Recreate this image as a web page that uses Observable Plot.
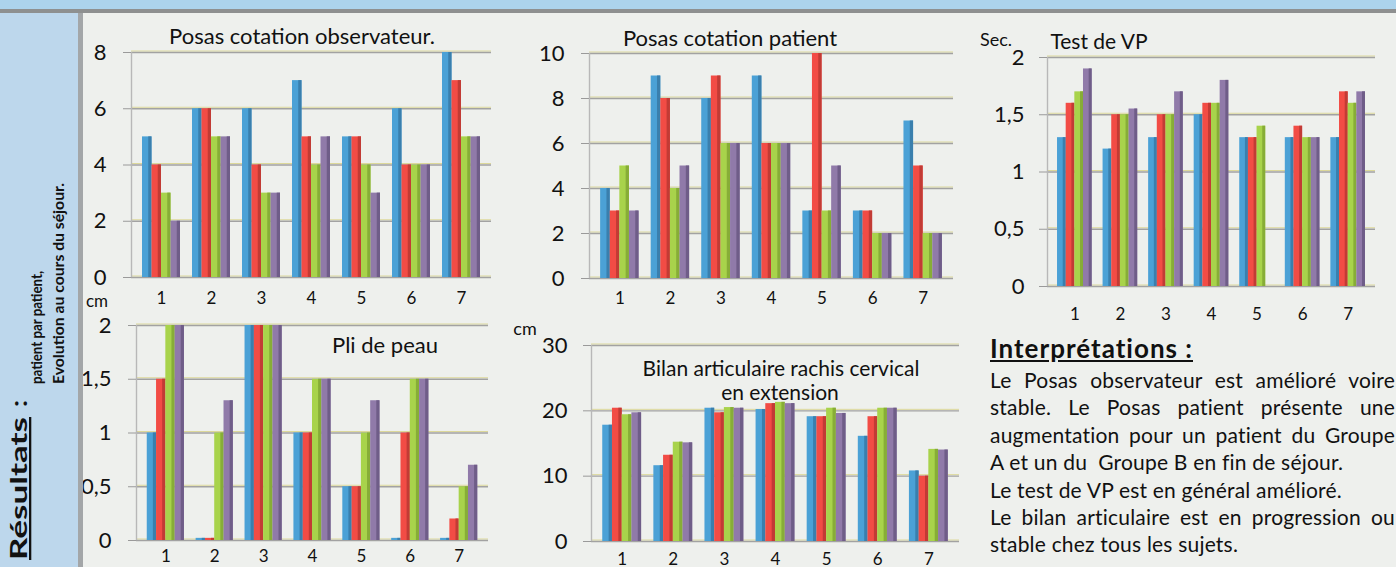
<!DOCTYPE html>
<html><head><meta charset="utf-8">
<script src="https://cdn.jsdelivr.net/npm/d3@7"></script>
<script src="https://cdn.jsdelivr.net/npm/@observablehq/plot@0.6"></script>
<style>
html,body{margin:0;padding:0;}
body{width:1396px;height:567px;overflow:hidden;background:#eef0ed;font-family:Lato,"Open Sans",sans-serif;color:#111;position:relative;}
.abs{position:absolute;}
.ttl{position:absolute;transform:translate(-50%,-50%);white-space:nowrap;line-height:1;font-size:22px;}
.line{position:absolute;left:990px;width:405px;height:27.4px;line-height:27.4px;font-size:21px;letter-spacing:0.2px;white-space:nowrap;}
.j{text-align:justify;text-align-last:justify;}
</style></head>
<body>
<div class="abs" style="left:0;top:0;width:1396px;height:9px;background:#acd3ec"></div>
<div class="abs" style="left:0;top:9px;width:1396px;height:4px;background:#8e9090"></div>
<div id="c1" class="abs" style="left:85px;top:18px"></div>
<div id="c2" class="abs" style="left:500px;top:18px"></div>
<div id="c3" class="abs" style="left:970px;top:20px"></div>
<div id="c4" class="abs" style="left:85px;top:300px"></div>
<div id="c5" class="abs" style="left:500px;top:308px"></div>
<div id="left" class="abs" style="left:0;top:13px;width:83px;height:554px;z-index:5"></div>

<div class="ttl" style="left:302px;top:36px">Posas cotation observateur.</div>
<div class="ttl" style="left:730px;top:38px">Posas cotation patient</div>
<div class="ttl" style="left:996px;top:39px;font-size:18px">Sec.</div>
<div class="ttl" style="left:1099px;top:40px;font-size:21px">Test de VP</div>
<div class="ttl" style="left:97px;top:300px;font-size:17px">cm</div>
<div class="ttl" style="left:385px;top:345px">Pli de peau</div>
<div class="ttl" style="left:525px;top:328px;font-size:18px">cm</div>
<div class="ttl" style="left:781px;top:367px;font-size:21px">Bilan articulaire rachis cervical</div>
<div class="ttl" style="left:780px;top:391px;font-size:21px">en extension</div>

<div id="interp"></div>

<script>
// ---- data ----
const patients = [1, 2, 3, 4, 5, 6, 7];
const seriesNames = ["Mesure 1", "Mesure 2", "Mesure 3", "Mesure 4"];
const seriesColors = ["#4ba1d6", "#f24c45", "#a8d34b", "#907aa9"];
const seriesSides  = ["#3a7fad", "#c23b35", "#87ad37", "#6f5d88"];

const posasObservateur = [[5,4,3,2],[6,6,5,5],[6,4,3,3],[7,5,4,5],[5,5,4,3],[6,4,4,4],[8,7,5,5]];
const posasPatient     = [[4,3,5,3],[9,8,4,5],[8,9,6,6],[9,6,6,6],[3,10,3,5],[3,3,2,2],[7,5,2,2]];
const testVP           = [[1.3,1.6,1.7,1.9],[1.2,1.5,1.5,1.55],[1.3,1.5,1.5,1.7],[1.5,1.6,1.6,1.8],[1.3,1.3,1.4,null],[1.3,1.4,1.3,1.3],[1.3,1.7,1.6,1.7]];
const pliDePeau        = [[1,1.5,2,2],[0.02,0.02,1,1.3],[2,2,2,2],[1,1,1.5,1.5],[0.5,0.5,1,1.3],[0.02,1,1.5,1.5],[0.02,0.2,0.5,0.7]];
const bilanArticulaire = [[17.8,20.4,19.4,19.7],[11.6,13.2,15.2,15.1],[20.4,19.7,20.5,20.4],[20.2,21.1,21.3,21.1],[19.1,19.1,20.4,19.6],[16.1,19.1,20.4,20.4],[10.8,10,14.1,14]];

const ticksObs = [0, 2, 4, 6, 8];
const ticksPat = [0, 2, 4, 6, 8, 10];
const ticksVP  = [0, 0.5, 1, 1.5, 2];
const ticksPli = [0, 0.5, 1, 1.5, 2];
const ticksBil = [0, 10, 20, 30];

const interpretation = [
  ["Le Posas observateur est amélioré voire", true],
  ["stable. Le Posas patient présente une", true],
  ["augmentation pour un patient du Groupe", true],
  ["A et un du  Groupe B en fin de séjour.", false],
  ["Le test de VP est en général amélioré.", false],
  ["Le bilan articulaire est en progression ou", true],
  ["stable chez tous les sujets.", false]
];

// ---- charts ----
const GROUP = 0.76, BAR = GROUP / 4, SIDE = 0.065;
const fmt = d => String(d).replace(".", ",");

function rowsFrom(values) {
  const rows = [];
  values.forEach((vals, i) => vals.forEach((v, s) => {
    if (v != null) rows.push({patient: patients[i], serie: s, name: seriesNames[s], value: v});
  }));
  return rows;
}

function drawChart(id, values, yDomain, yTicks, o) {
  const rows = rowsFrom(values);
  const bx1 = d => d.patient - GROUP / 2 + d.serie * BAR;
  const barMarks = [];
  seriesNames.forEach((n, s) => {
    const sub = rows.filter(d => d.serie === s);
    barMarks.push(Plot.rectY(sub, {x1: bx1, x2: d => bx1(d) + BAR, y1: 0, y2: "value", fill: seriesColors[s]}));
    barMarks.push(Plot.rectY(sub, {x1: d => bx1(d) + BAR - SIDE, x2: d => bx1(d) + BAR, y1: 0, y2: "value", fill: seriesSides[s]}));
  });
  const chart = Plot.plot({
    width: o.width, height: o.height,
    marginLeft: o.ml, marginRight: o.mr, marginTop: o.mt, marginBottom: o.mb,
    x: {domain: [0.4, 7.6], axis: null, label: null},
    y: {domain: yDomain, axis: null, label: null},
    style: {background: "transparent", fontFamily: "Lato, sans-serif", overflow: "visible", color: "#111"},
    marks: [
      Plot.ruleY(yTicks, {stroke: "#dcd89a", strokeWidth: 1, dy: -1.5}),
      Plot.ruleY(yTicks, {stroke: "#a2a2a2", strokeWidth: 1.4}),
      Plot.ruleX([0.4], {y1: yDomain[0], y2: yDomain[1], stroke: "#b8b8b8", strokeWidth: 1.4}),
      ...barMarks,
      Plot.axisY({ticks: yTicks, tickSize: 8, tickPadding: o.yPad, tickFormat: fmt, fontSize: 22, stroke: "#9a9a9a", fill: "#111", label: null}),
      Plot.axisX({ticks: patients, tickSize: 0, tickPadding: o.xPad, fontSize: 17, fill: "#111", label: null})
    ]
  });
  document.getElementById(id).appendChild(chart);
}

drawChart("c1", posasObservateur, [0, 8], ticksObs, {width: 410, height: 289, ml: 46, mr: 4, mt: 34, mb: 30, yPad: 17, xPad: 14});
drawChart("c2", posasPatient, [0, 10], ticksPat, {width: 460, height: 290, ml: 89, mr: 7, mt: 35, mb: 30, yPad: 17, xPad: 13});
drawChart("c3", testVP, [0, 2], ticksVP, {width: 410, height: 306, ml: 77, mr: 5, mt: 37, mb: 40, yPad: 15, xPad: 21});
drawChart("c4", pliDePeau, [0, 2], ticksPli, {width: 408, height: 267, ml: 51, mr: 5, mt: 25, mb: 27, yPad: 17, xPad: 9});
drawChart("c5", bilanArticulaire, [0, 30], ticksBil, {width: 465, height: 259, ml: 91, mr: 6, mt: 37, mb: 26, yPad: 16, xPad: 11});

// ---- left panel ----
const left = d3.select("#left").append("svg").attr("width", 83).attr("height", 554).style("display", "block");
left.append("rect").attr("width", 78).attr("height", 554).attr("fill", "#bdd7ec");
left.append("rect").attr("x", 78).attr("width", 5).attr("height", 554).attr("fill", "#a3a6a8");
const T = (x, y, txt, size, len) => left.append("text")
  .attr("transform", `translate(${x},${y}) rotate(-90)`)
  .attr("font-family", "Lato, sans-serif").attr("font-weight", "bold")
  .attr("font-size", size).attr("fill", "#111")
  .attr("textLength", len).attr("lengthAdjust", "spacingAndGlyphs").text(txt);
T(27, 547, "Résultats", 23, 143).style("text-decoration", "underline");
T(27, 394, ":", 23, 7);
T(42, 371, "patient par patient,", 15, 113);
T(64, 371, "Evolution au cours du séjour.", 15, 201);

// ---- interpretation text ----
const box = document.getElementById("interp");
const head = document.createElement("div");
head.className = "abs";
head.style.cssText = "left:990px;top:333px;font-size:26px;letter-spacing:1px;line-height:30px;font-weight:bold;text-decoration:underline;white-space:nowrap;";
head.textContent = "Interprétations :";
box.appendChild(head);
interpretation.forEach(([t, just], i) => {
  const d = document.createElement("div");
  d.className = "line" + (just ? " j" : "");
  d.style.top = (366 + i * 27.4) + "px";
  if (!just) d.style.whiteSpace = "pre";
  d.textContent = t;
  box.appendChild(d);
});
</script>
</body></html>
